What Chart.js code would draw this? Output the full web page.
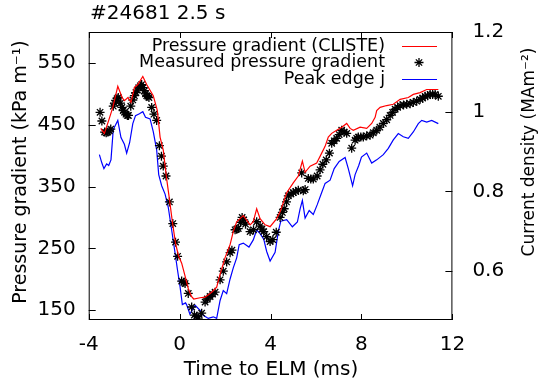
<!DOCTYPE html>
<html>
<head>
<meta charset="utf-8">
<script src="https://cdn.jsdelivr.net/npm/chart.js@4/dist/chart.umd.min.js"></script>
<style>
  html, body { margin: 0; padding: 0; background: #fff; }
  #wrap { width: 541px; height: 381px; }
</style>
</head>
<body>
<div id="wrap"><canvas id="chart" width="541" height="381"></canvas></div>
<script>
// Pressure gradient from CLISTE (kPa/m)
const tCliste = [-3.47,-3.31,-3.12,-2.94,-2.72,-2.53,-2.43,-2.27,-2.14,-1.99,-1.84,-1.62,-1.45,-1.16,-0.98,-0.86,-0.72,-0.58,-0.45,-0.32,-0.18,-0.05,0.09,0.24,0.38,0.52,0.62,0.90,1.12,1.41,1.63,1.78,2.0,2.22,2.36,2.51,2.80,3.10,3.24,3.39,3.54,3.76,3.98,4.27,4.42,4.71,5.0,5.22,5.40,5.52,5.74,6.03,6.25,6.40,6.54,6.69,6.91,7.13,7.35,7.50,7.64,7.94,8.23,8.45,8.60,8.67,8.82,9.11,9.40,9.70,10.06,10.28,10.58,10.87,11.09,11.38];
const pCliste = [444,436,457,478,512,494,489,494,486,510,515,528,515,497,473,430,409,365,330,293,258,238,226,205,185,172,168,170,171,179,187,208,235,256,277,293,303,288,293,314,298,288,285,298,309,340,356,367,391,373,383,388,404,415,430,436,441,446,452,444,441,446,444,452,462,473,478,481,483,491,494,499,502,507,507,507];

// Measured pressure gradient (kPa/m)
const tMeas = [-3.50,-3.42,-3.30,-3.23,-3.16,-3.09,-3.03,-2.92,-2.86,-2.80,-2.75,-2.70,-2.60,-2.54,-2.48,-2.42,-2.36,-2.30,-2.25,-2.15,-2.06,-1.99,-1.92,-1.86,-1.80,-1.73,-1.67,-1.61,-1.55,-1.50,-1.45,-1.40,-1.35,-1.23,-1.13,-1.01,-0.89,-0.80,-0.72,-0.60,-0.45,-0.30,-0.18,-0.09,0.09,0.18,0.24,0.38,0.53,0.65,0.75,0.82,0.97,1.12,1.22,1.34,1.45,1.56,1.78,1.92,2.07,2.22,2.30,2.44,2.51,2.58,2.68,2.75,2.82,2.90,3.10,3.25,3.39,3.54,3.62,3.70,3.83,3.98,4.10,4.25,4.42,4.52,4.60,4.70,4.78,4.90,5.0,5.11,5.22,5.37,5.44,5.52,5.66,5.77,5.88,6.05,6.18,6.30,6.45,6.59,6.69,6.80,6.91,7.02,7.13,7.24,7.35,7.57,7.72,7.79,7.86,7.97,8.08,8.23,8.38,8.52,8.67,8.81,8.96,9.11,9.26,9.37,9.48,9.59,9.70,9.85,9.99,10.14,10.28,10.43,10.58,10.69,10.80,10.91,11.02,11.13,11.24,11.38];
const pMeas = [470,456,438,437,438,440,443,480,485,489,492,494,485,478,473,470,467,465,465,480,490,497,502,506,510,513,515,510,505,500,497,496,494,478,467,457,416,399,383,367,325,290,260,237,197,195,193,177,155,142,140,137,145,163,168,172,176,179,199,213,228,243,247,280,281,282,292,300,296,289,277,280,293,286,281,277,269,261,264,276,300,308,314,325,335,338,340,342,344,372,343,345,363,362,362,367,377,386,393,404,420,424,428,434,441,438,436,412,425,428,430,430,430,432,433,437,441,446,452,458,465,470,475,478,481,482,483,484,486,488,491,493,496,497,499,499,499,496];

// Peak edge current density (MA/m^2)
const tJ = [-3.53,-3.42,-3.33,-3.21,-3.12,-3.02,-2.92,-2.72,-2.58,-2.43,-2.33,-2.20,-2.06,-1.94,-1.77,-1.62,-1.50,-1.30,-1.16,-1.01,-0.92,-0.79,-0.64,-0.50,-0.35,-0.20,-0.10,0.02,0.12,0.26,0.31,0.45,0.68,0.90,1.04,1.26,1.48,1.63,1.78,1.92,2.07,2.22,2.36,2.51,2.62,2.80,3.05,3.24,3.39,3.54,3.70,3.83,3.98,4.20,4.34,4.45,4.71,4.96,5.18,5.30,5.40,5.52,5.70,5.88,6.05,6.25,6.40,6.62,6.80,7.02,7.28,7.42,7.61,7.72,7.88,8.0,8.23,8.45,8.67,8.96,9.18,9.40,9.62,9.84,10.06,10.28,10.50,10.65,10.87,11.09,11.38];
const jEdge = [0.892,0.871,0.857,0.869,0.865,0.879,0.955,0.978,0.935,0.918,0.896,0.922,0.970,0.990,0.995,1.0,0.986,0.982,0.950,0.904,0.842,0.814,0.793,0.760,0.703,0.645,0.605,0.560,0.516,0.520,0.515,0.492,0.514,0.501,0.489,0.481,0.485,0.481,0.526,0.551,0.543,0.580,0.608,0.633,0.666,0.670,0.660,0.678,0.703,0.694,0.680,0.649,0.625,0.647,0.699,0.725,0.729,0.711,0.723,0.756,0.777,0.733,0.752,0.742,0.766,0.797,0.820,0.828,0.857,0.875,0.885,0.857,0.814,0.842,0.865,0.886,0.896,0.871,0.879,0.892,0.908,0.929,0.945,0.937,0.933,0.949,0.970,0.978,0.974,0.978,0.970];

const xTicks = [-4, 0, 4, 8, 12];
const yTicks = [150, 250, 350, 450, 550];
const y2Ticks = [0.6, 0.8, 1.0, 1.2];

const FONT = '"DejaVu Sans", sans-serif';

const pts = (xs, ys) => xs.map((x, i) => ({x: x, y: ys[i]}));

// frame, inward ticks, titles and legend, gnuplot style
const decor = {
    id: 'decor',
    afterDatasetsDraw(chart) {
        const ctx = chart.ctx;
        const a = chart.chartArea;
        const sx = chart.scales.x, sy = chart.scales.y, sy2 = chart.scales.y2;
        ctx.save();
        ctx.strokeStyle = '#000';
        ctx.lineWidth = 1;
        ctx.strokeRect(a.left + 0.5, a.top + 0.5, a.right - a.left - 1, a.bottom - a.top - 1);
        ctx.beginPath();
        xTicks.forEach(v => {
            const px = Math.round(sx.getPixelForValue(v)) + 0.5;
            ctx.moveTo(px, a.bottom); ctx.lineTo(px, a.bottom - 6);
            ctx.moveTo(px, a.top); ctx.lineTo(px, a.top + 6);
        });
        yTicks.forEach(v => {
            const py = Math.round(sy.getPixelForValue(v)) + 0.5;
            ctx.moveTo(a.left, py); ctx.lineTo(a.left + 7, py);
        });
        y2Ticks.forEach(v => {
            const py = Math.round(sy2.getPixelForValue(v)) + 0.5;
            ctx.moveTo(a.right, py); ctx.lineTo(a.right - 7, py);
        });
        ctx.stroke();

        ctx.fillStyle = '#000';
        ctx.font = '20px ' + FONT;
        ctx.textAlign = 'left';
        ctx.textBaseline = 'middle';
        ctx.fillText('#24681 2.5 s', 90, 14);

        ctx.textAlign = 'center';
        ctx.fillText('Time to ELM (ms)', 271, 370);
        ctx.save();
        ctx.font = '19px ' + FONT;
        ctx.translate(21, 172);
        ctx.rotate(-Math.PI / 2);
        ctx.fillText('Pressure gradient (kPa m\u207B\u00B9)', 0, 0);
        ctx.restore();
        ctx.save();
        ctx.font = '17px ' + FONT;
        ctx.translate(530, 152);
        ctx.rotate(-Math.PI / 2);
        ctx.fillText('Current density (MAm\u207B\u00B2)', 0, 0);
        ctx.restore();

        // legend
        ctx.font = '17.5px ' + FONT;
        ctx.textAlign = 'right';
        const rows = [46, 62.5, 79];
        chart.data.datasets.forEach((ds, i) => {
            const y = rows[i];
            ctx.fillStyle = '#000';
            ctx.fillText(ds.label, 385, y);
            if (ds.showLine === false) {
                const r = 4.5, cx = 419;
                ctx.beginPath();
                ctx.moveTo(cx - r, y); ctx.lineTo(cx + r, y);
                ctx.moveTo(cx, y - r); ctx.lineTo(cx, y + r);
                ctx.moveTo(cx - r * 0.7, y - r * 0.7); ctx.lineTo(cx + r * 0.7, y + r * 0.7);
                ctx.moveTo(cx - r * 0.7, y + r * 0.7); ctx.lineTo(cx + r * 0.7, y - r * 0.7);
                ctx.strokeStyle = '#000';
                ctx.lineWidth = 1.3;
                ctx.stroke();
            } else {
                ctx.beginPath();
                ctx.moveTo(402, Math.round(y) + 0.5); ctx.lineTo(437, Math.round(y) + 0.5);
                ctx.strokeStyle = ds.borderColor;
                ctx.lineWidth = 1;
                ctx.stroke();
            }
        });
        ctx.restore();
    }
};

new Chart(document.getElementById('chart'), {
    type: 'scatter',
    data: {
        datasets: [{
            label: 'Pressure gradient (CLISTE)',
            data: pts(tCliste, pCliste),
            showLine: true,
            borderColor: '#ff0000',
            borderWidth: 1.2,
            pointRadius: 0,
            yAxisID: 'y'
        }, {
            label: 'Measured pressure gradient',
            data: pts(tMeas, pMeas),
            showLine: false,
            pointStyle: 'star',
            pointRadius: 4.5,
            borderColor: '#000',
            backgroundColor: '#000',
            borderWidth: 1.3,
            yAxisID: 'y'
        }, {
            label: 'Peak edge j',
            data: pts(tJ, jEdge),
            showLine: true,
            borderColor: '#0000ff',
            borderWidth: 1.2,
            pointRadius: 0,
            yAxisID: 'y2'
        }]
    },
    options: {
        responsive: false,
        animation: false,
        events: [],
        layout: { padding: { top: 26.6, left: 0, right: 0, bottom: 0 } },
        plugins: { legend: { display: false }, title: { display: false }, tooltip: { enabled: false } },
        scales: {
            x: {
                type: 'linear', min: -4, max: 12,
                afterBuildTicks: s => { s.ticks = xTicks.map(v => ({value: v})); },
                afterFit: s => { s.height = 61; },
                grid: { display: false, drawTicks: false },
                border: { display: false },
                ticks: { color: '#000', padding: 13, font: { family: FONT, size: 20 } }
            },
            y: {
                type: 'linear', position: 'left', min: 134, max: 600,
                afterBuildTicks: s => { s.ticks = yTicks.map(v => ({value: v})); },
                afterFit: s => { s.width = 88.7; },
                grid: { display: false, drawTicks: false },
                border: { display: false },
                ticks: { color: '#000', padding: 13, font: { family: FONT, size: 20 } }
            },
            y2: {
                type: 'linear', position: 'right', min: 0.477, max: 1.2,
                afterBuildTicks: s => { s.ticks = y2Ticks.map(v => ({value: v})); },
                afterFit: s => { s.width = 88.6; },
                grid: { display: false, drawTicks: false },
                border: { display: false },
                ticks: { color: '#000', padding: 20, font: { family: FONT, size: 20 },
                         callback: v => String(+v.toFixed(1)) }
            }
        }
    },
    plugins: [decor]
});
</script>
</body>
</html>
